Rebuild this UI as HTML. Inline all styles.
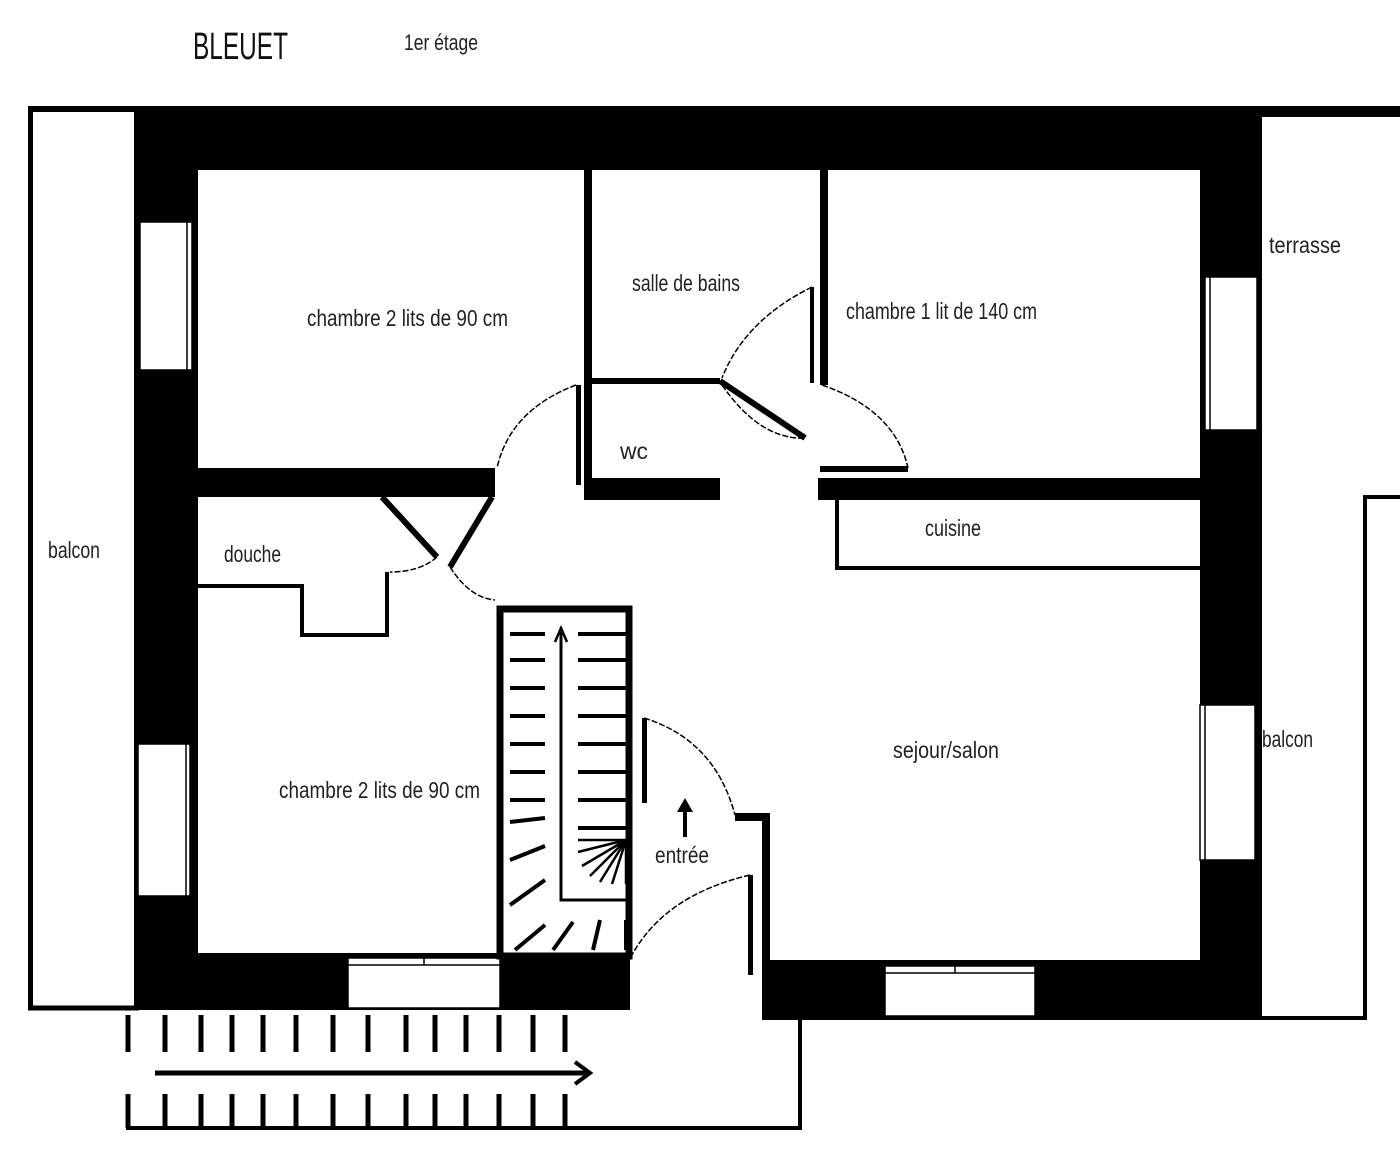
<!DOCTYPE html>
<html><head><meta charset="utf-8"><style>
html,body{margin:0;padding:0;background:#fff;}
svg{display:block;}
text{font-family:"Liberation Sans",sans-serif;fill:#222;}
</style></head><body>
<svg width="1400" height="1155" viewBox="0 0 1400 1155" xmlns="http://www.w3.org/2000/svg">
<rect width="1400" height="1155" fill="#fff"/>
<rect x="28" y="106" width="1372" height="6" fill="#000"/>
<rect x="30.5" y="109" width="106" height="899" fill="none" stroke="#000" stroke-width="5"/>
<rect x="136" y="108" width="1126" height="62" fill="#000"/>
<rect x="1262" y="108" width="138" height="9" fill="#000"/>
<rect x="136" y="108" width="62" height="900" fill="#000"/>
<rect x="136" y="953" width="494" height="57" fill="#000"/>
<rect x="1200" y="108" width="62" height="912" fill="#000"/>
<rect x="762" y="960" width="500" height="60" fill="#000"/>
<rect x="762" y="815" width="8" height="150" fill="#000"/>
<rect x="735" y="813" width="35" height="8" fill="#000"/>
<g fill="#fff" stroke="#000" stroke-width="1.5">
<rect x="140" y="222" width="52" height="148"/><line x1="187" y1="222" x2="187" y2="370"/>
<rect x="138" y="744" width="52" height="152"/><line x1="186" y1="744" x2="186" y2="896"/>
<rect x="1205" y="277" width="52" height="153"/><line x1="1210" y1="277" x2="1210" y2="430"/>
<rect x="1200" y="705" width="55" height="155"/><line x1="1205" y1="705" x2="1205" y2="860"/>
<rect x="348" y="958" width="152" height="50"/><line x1="348" y1="965" x2="500" y2="965"/><line x1="424" y1="958" x2="424" y2="965"/>
<rect x="885" y="966" width="150" height="50"/><line x1="885" y1="973" x2="1035" y2="973"/><line x1="955" y1="966" x2="955" y2="973"/>
</g>
<polyline points="1262,1018 1365,1018 1365,497 1400,497" fill="none" stroke="#000" stroke-width="4"/>
<rect x="198" y="468" width="297" height="29" fill="#000"/>
<rect x="584" y="170" width="8" height="330" fill="#000"/>
<rect x="592" y="378" width="128" height="6" fill="#000"/>
<rect x="585" y="478" width="135" height="22" fill="#000"/>
<line x1="720" y1="381" x2="805" y2="438" stroke="#000" stroke-width="6"/>
<rect x="576" y="385" width="5" height="100" fill="#000"/>
<rect x="820" y="170" width="8" height="215" fill="#000"/>
<rect x="810" y="287" width="4" height="96" fill="#000"/>
<rect x="820" y="466" width="88" height="6" fill="#000"/>
<rect x="818" y="478" width="382" height="22" fill="#000"/>
<polyline points="837,500 837,568 1200,568" fill="none" stroke="#000" stroke-width="4"/>
<g fill="none" stroke="#000" stroke-width="1.5" stroke-dasharray="6,2">
<path d="M576,385 Q510,410 497,468"/>
<path d="M812,287 Q745,320 722,378"/>
<path d="M722,385 Q760,440 805,438"/>
<path d="M822,385 Q895,410 908,468"/>
<path d="M437,557 Q420,572 390,572"/>
<path d="M450,567 Q470,598 495,600"/>
<path d="M644,718 Q715,740 735,815"/>
<path d="M750,875 Q665,895 632,955"/>
</g>
<line x1="382" y1="497" x2="437" y2="557" stroke="#000" stroke-width="6"/>
<line x1="492" y1="497" x2="450" y2="567" stroke="#000" stroke-width="6"/>
<polyline points="198,586 302,586 302,635 387,635 387,572" fill="none" stroke="#000" stroke-width="4"/>
<rect x="500" y="609" width="129" height="347" fill="none" stroke="#000" stroke-width="7"/>
<g stroke="#000" stroke-width="4">
<line x1="510" y1="634" x2="545" y2="634"/><line x1="578" y1="634" x2="626" y2="634"/>
<line x1="510" y1="660" x2="545" y2="660"/><line x1="578" y1="660" x2="626" y2="660"/>
<line x1="510" y1="688" x2="545" y2="688"/><line x1="578" y1="688" x2="626" y2="688"/>
<line x1="510" y1="716" x2="545" y2="716"/><line x1="578" y1="716" x2="626" y2="716"/>
<line x1="510" y1="744" x2="545" y2="744"/><line x1="578" y1="744" x2="626" y2="744"/>
<line x1="510" y1="772" x2="545" y2="772"/><line x1="578" y1="772" x2="626" y2="772"/>
<line x1="510" y1="800" x2="545" y2="800"/><line x1="578" y1="800" x2="626" y2="800"/>
<line x1="510" y1="822" x2="545" y2="818"/><line x1="578" y1="828" x2="626" y2="828"/>
<line x1="510" y1="860" x2="545" y2="846"/>
<line x1="510" y1="905" x2="545" y2="880"/>
<line x1="515" y1="950" x2="545" y2="925"/>
<line x1="553" y1="950" x2="573" y2="922"/>
<line x1="593" y1="950" x2="600" y2="920"/>
<line x1="626" y1="950" x2="626" y2="920"/>
</g>
<g stroke="#000" stroke-width="2.5">
<line x1="626" y1="840" x2="578" y2="840"/><line x1="626" y1="840" x2="578" y2="852"/><line x1="626" y1="840" x2="582" y2="866"/><line x1="626" y1="840" x2="590" y2="876"/><line x1="626" y1="840" x2="600" y2="882"/><line x1="626" y1="840" x2="612" y2="884"/><line x1="626" y1="840" x2="626" y2="884"/>
</g>
<polyline points="561,632 561,900 632,900" fill="none" stroke="#000" stroke-width="3"/>
<path d="M555,642 L561,628 L567,642" fill="none" stroke="#000" stroke-width="2.5"/>
<rect x="642" y="718" width="5" height="85" fill="#000"/>
<rect x="748" y="875" width="5" height="100" fill="#000"/>
<line x1="685" y1="837" x2="685" y2="808" stroke="#000" stroke-width="4"/>
<path d="M677,812 L685,798 L693,812 Z" fill="#000"/>
<g stroke="#000" stroke-width="5">
<line x1="128" y1="1015" x2="128" y2="1052"/><line x1="165" y1="1015" x2="165" y2="1052"/><line x1="201" y1="1015" x2="201" y2="1052"/><line x1="232" y1="1015" x2="232" y2="1052"/><line x1="263" y1="1015" x2="263" y2="1052"/><line x1="296" y1="1015" x2="296" y2="1052"/><line x1="333" y1="1015" x2="333" y2="1052"/><line x1="368" y1="1015" x2="368" y2="1052"/><line x1="406" y1="1015" x2="406" y2="1052"/><line x1="435" y1="1015" x2="435" y2="1052"/><line x1="466" y1="1015" x2="466" y2="1052"/><line x1="499" y1="1015" x2="499" y2="1052"/><line x1="533" y1="1015" x2="533" y2="1052"/><line x1="565" y1="1015" x2="565" y2="1052"/>
<line x1="128" y1="1094" x2="128" y2="1128"/><line x1="165" y1="1094" x2="165" y2="1128"/><line x1="201" y1="1094" x2="201" y2="1128"/><line x1="232" y1="1094" x2="232" y2="1128"/><line x1="263" y1="1094" x2="263" y2="1128"/><line x1="296" y1="1094" x2="296" y2="1128"/><line x1="333" y1="1094" x2="333" y2="1128"/><line x1="368" y1="1094" x2="368" y2="1128"/><line x1="406" y1="1094" x2="406" y2="1128"/><line x1="435" y1="1094" x2="435" y2="1128"/><line x1="466" y1="1094" x2="466" y2="1128"/><line x1="499" y1="1094" x2="499" y2="1128"/><line x1="533" y1="1094" x2="533" y2="1128"/><line x1="565" y1="1094" x2="565" y2="1128"/>
</g>
<line x1="155" y1="1073" x2="588" y2="1073" stroke="#000" stroke-width="5"/>
<path d="M575,1062 L590,1073 L575,1084" fill="none" stroke="#000" stroke-width="4"/>
<polyline points="126,1128 800,1128 800,1018" fill="none" stroke="#000" stroke-width="4"/>
<text x="193" y="59" font-size="38" textLength="95" lengthAdjust="spacingAndGlyphs" style="fill:#111">BLEUET</text>
<text x="404" y="50" font-size="22" textLength="74" lengthAdjust="spacingAndGlyphs">1er étage</text>
<g font-size="23">
<text x="307" y="326" textLength="201" lengthAdjust="spacingAndGlyphs">chambre 2 lits de 90 cm</text>
<text x="632" y="291" textLength="108" lengthAdjust="spacingAndGlyphs">salle de bains</text>
<text x="846" y="319" textLength="191" lengthAdjust="spacingAndGlyphs">chambre 1 lit de 140 cm</text>
<text x="1269" y="253" textLength="72" lengthAdjust="spacingAndGlyphs">terrasse</text>
<text x="620" y="459" textLength="28" lengthAdjust="spacingAndGlyphs">wc</text>
<text x="925" y="536" textLength="56" lengthAdjust="spacingAndGlyphs">cuisine</text>
<text x="48" y="558" textLength="52" lengthAdjust="spacingAndGlyphs">balcon</text>
<text x="224" y="562" textLength="57" lengthAdjust="spacingAndGlyphs">douche</text>
<text x="279" y="798" textLength="201" lengthAdjust="spacingAndGlyphs">chambre 2 lits de 90 cm</text>
<text x="893" y="758" textLength="106" lengthAdjust="spacingAndGlyphs">sejour/salon</text>
<text x="1262" y="747" textLength="51" lengthAdjust="spacingAndGlyphs">balcon</text>
<text x="655" y="863" textLength="54" lengthAdjust="spacingAndGlyphs">entrée</text>
</g>
</svg>
</body></html>
